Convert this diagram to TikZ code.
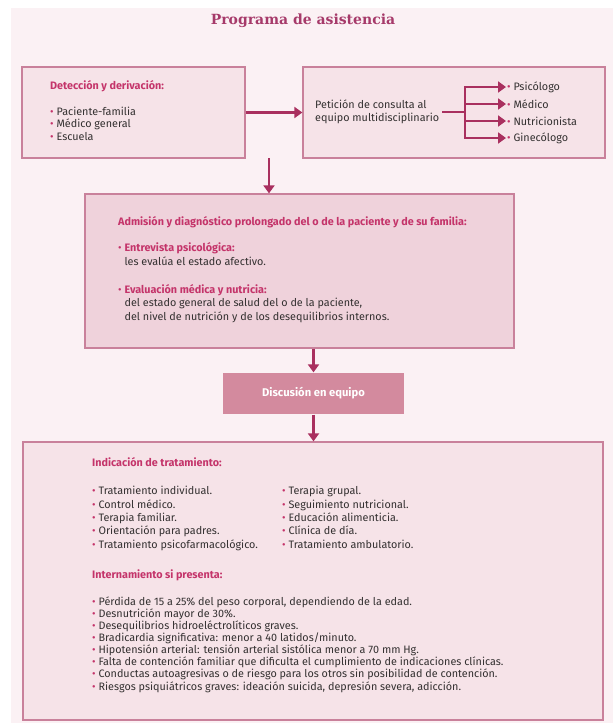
\documentclass[tikz,border=0pt]{standalone}
\usepackage{fontspec}
\setmainfont{Fira Sans}
\newfontfamily\titlefont{DejaVu Serif}
\usetikzlibrary{arrows.meta,positioning}

\definecolor{fondo}{HTML}{FBF1F4}
\definecolor{cajafill}{HTML}{F6E3E8}
\definecolor{cajafuerte}{HTML}{EFD2DB}
\definecolor{borde}{HTML}{C9819B}
\definecolor{flecha}{HTML}{A9305F}
\definecolor{rubro}{HTML}{C4346A}
\definecolor{titulo}{HTML}{A63A6A}
\definecolor{letra}{HTML}{333030}
\definecolor{discu}{HTML}{D38A9E}

\newcommand{\vineta}{\textcolor{rubro}{\textbullet}\ }
\newcommand{\sangria}{\phantom{\textbullet\ }}

\tikzset{
  caja/.style={draw=borde, line width=1.3pt, fill=cajafill, inner sep=0pt},
  flechita/.style={draw=flecha, line width=2.4pt, -{Triangle[length=8pt,width=11pt]}},
  linea/.style={draw=flecha, line width=2.4pt},
  txt/.style={anchor=base west, inner sep=0pt, align=left, text=letra, font=\fontsize{10.8}{13}\selectfont},
  rubrotxt/.style={txt, text=rubro, font=\fontsize{10.8}{13}\selectfont\bfseries},
}

\begin{document}
\begin{tikzpicture}[x=1pt, y=-1pt]
    \useasboundingbox (0,0) rectangle (613,723);
    \fill[fondo] (11,8) rectangle (613,723);

    % Title
    \node[font=\titlefont\fontsize{14}{16}\selectfont\bfseries, text=titulo] (titulo) at (303,21) {Programa de asistencia};

    % Boxes
    \node[caja, minimum width=223pt, minimum height=91pt] (deteccion) at (133.5,112.5) {};
    \node[caja, minimum width=302pt, minimum height=91pt] (peticionbox) at (454,112.5) {};
    \node[caja, fill=cajafuerte, minimum width=429pt, minimum height=154pt] (admision) at (299.5,271) {};
    \node[caja, draw=none, fill=discu, minimum width=181pt, minimum height=41pt,
          text=white, font=\fontsize{11.2}{13}\selectfont\bfseries] (discusion) at (313.5,393.5) {Discusión en equipo};
    \node[caja, minimum width=580pt, minimum height=278pt] (tratamiento) at (313,581) {};

    % Detección (base anchor = last line)
    \node[rubrotxt] (det-head) at (50,89) {Detección y derivación:};
    \node[txt, font=\fontsize{10.8}{12.5}\selectfont] (det-list) at (50,140) {\vineta Paciente-familia\\ \vineta Médico general\\ \vineta Escuela};

    % Petición
    \node[txt, anchor=west, font=\fontsize{10.8}{13}\selectfont] (peticion) at (315,112) {Petición de consulta al\\ equipo multidisciplinario};
    \coordinate (ramal) at (465,112);
    \node[txt, anchor=west, inner sep=1pt] (psi) at (506,87) {\vineta Psicólogo};
    \node[txt, anchor=west, inner sep=1pt] (med) at (506,104) {\vineta Médico};
    \node[txt, anchor=west, inner sep=1pt] (nut) at (506,121) {\vineta Nutricionista};
    \node[txt, anchor=west, inner sep=1pt] (gin) at (506,138) {\vineta Ginecólogo};

    % Admisión
    \node[rubrotxt] (adm-head) at (118,225) {Admisión y diagnóstico prolongado del o de la paciente y de su familia:};
    \node[txt, font=\fontsize{10.8}{14}\selectfont] (adm-a) at (118,265) {\vineta\textcolor{rubro}{\bfseries Entrevista psicológica:}\\ \sangria les evalúa el estado afectivo.};
    \node[txt, font=\fontsize{10.8}{13.5}\selectfont] (adm-b) at (118,320) {\vineta\textcolor{rubro}{\bfseries Evaluación médica y nutricia:}\\ \sangria del estado general de salud del o de la paciente,\\ \sangria del nivel de nutrición y de los desequilibrios internos.};

    % Tratamiento
    \node[rubrotxt] (trat-head) at (92,466) {Indicación de tratamiento:};
    \node[txt, font=\fontsize{10.8}{13.3}\selectfont] (trat-a) at (92,548) {\vineta Tratamiento individual.\\ \vineta Control médico.\\ \vineta Terapia familiar.\\ \vineta Orientación para padres.\\ \vineta Tratamiento psicofarmacológico.};
    \node[txt, font=\fontsize{10.8}{13.3}\selectfont] (trat-b) at (282,548) {\vineta Terapia grupal.\\ \vineta Seguimiento nutricional.\\ \vineta Educación alimenticia.\\ \vineta Clínica de día.\\ \vineta Tratamiento ambulatorio.};
    \node[rubrotxt] (int-head) at (92,578) {Internamiento si presenta:};
    \node[txt, font=\fontsize{10.8}{12.1}\selectfont] (int-list) at (92,690) {\vineta Pérdida de 15 a 25\% del peso corporal, dependiendo de la edad.\\
      \vineta Desnutrición mayor de 30\%.\\
      \vineta Desequilibrios hidroeléctrolíticos graves.\\
      \vineta Bradicardia significativa: menor a 40 latidos/minuto.\\
      \vineta Hipotensión arterial: tensión arterial sistólica menor a 70 mm Hg.\\
      \vineta Falta de contención familiar que dificulta el cumplimiento de indicaciones clínicas.\\
      \vineta Conductas autoagresivas o de riesgo para los otros sin posibilidad de contención.\\
      \vineta Riesgos psiquiátricos graves: ideación suicida, depresión severa, adicción.};

    % Lines
    \draw[flechita] (deteccion.east) -- (peticionbox.west);
    \draw[linea] (peticion.east) ++(3,0) -- (ramal);
    \draw[flechita] (ramal) |- (psi.west);
    \draw[flechita] (ramal) |- (med.west);
    \draw[flechita] (ramal) |- (nut.west);
    \draw[flechita] (ramal) |- (gin.west);

    \coordinate (bajada) at (269,158);
    \draw[flechita] (bajada) -- (bajada |- admision.north);
    \draw[flechita] (discusion.north |- admision.south) -- (discusion.north);
    \draw[flechita] (discusion.south) -- (discusion.south |- tratamiento.north);

\end{tikzpicture}
\end{document}
